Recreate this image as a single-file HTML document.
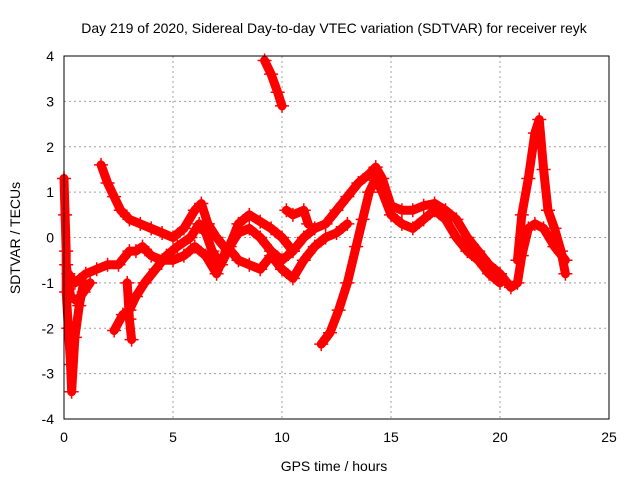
<!DOCTYPE html>
<html><head><meta charset="utf-8"><style>
body{margin:0;background:#fff;}
svg{display:block;font-family:"Liberation Sans",sans-serif;}
</style></head><body>
<svg id="chart" width="640" height="480">
<rect width="640" height="480" fill="#fff"/>
<text x="334" y="33" font-size="14" text-anchor="middle">Day 219 of 2020, Sidereal Day-to-day VTEC variation (SDTVAR) for receiver reyk</text>
<text x="334" y="471" font-size="14" text-anchor="middle">GPS time / hours</text>
<text x="20" y="238" font-size="14" text-anchor="middle" transform="rotate(-90 20 238)">SDTVAR / TECUs</text>
<g id="grid"></g><g id="ticks"></g><g id="marks"></g>
<rect x="64" y="56" width="545" height="363" fill="none" stroke="#000"/>
</svg>
<script>
const xTicks=[0,5,10,15,20,25];
const yTicks=[-4,-3,-2,-1,0,1,2,3,4];
const track1=[[1.7,1.6],[2.0,1.2],[2.3,0.9],[2.6,0.6],[3.0,0.4],[3.5,0.3],[4,0.2],[4.5,0.1],[5,0.0],[5.5,0.2],[6,0.6],[6.3,0.75],[6.6,0.3],[7,0.0],[7.5,-0.3],[8,0.3],[8.5,0.5],[9,0.35],[9.5,0.2],[10,0.0],[10.5,-0.3],[11,0.0],[11.5,0.2],[12,0.3],[12.5,0.6],[13,0.9],[13.5,1.2],[14,1.4],[14.3,1.55],[14.6,1.3],[15,0.7],[15.5,0.6],[16,0.6],[16.5,0.7],[17,0.75],[17.5,0.6],[18,0.4],[18.5,0.0],[19,-0.3],[19.5,-0.6],[20,-0.8],[20.5,-1.1],[20.8,-1.0],[21,-0.4],[21.3,0.2],[21.6,0.3],[22,0.2],[22.5,-0.2],[23,-0.5]];
const track2=[[0.2,-0.8],[0.5,-1.0],[1,-0.8],[1.5,-0.7],[2,-0.6],[2.5,-0.6],[3,-0.3],[3.3,-0.3],[3.6,-0.2],[4,-0.4],[4.5,-0.5],[5,-0.5],[5.5,-0.4],[6,-0.2],[6.5,-0.4],[7,-0.8],[7.5,-0.2],[8,-0.5],[8.5,-0.6],[9,-0.7],[9.5,-0.4],[10,-0.7],[10.5,-0.9],[11,-0.5],[11.5,-0.2],[12,0.0],[12.5,0.1],[13,0.3]];
const track3=[[2.3,-2.05],[2.7,-1.7],[3.0,-1.6],[3.3,-1.3],[3.7,-1.0],[4.2,-0.7],[4.7,-0.4],[5.2,-0.2],[5.8,0.0],[6.2,0.3],[6.5,0.1],[6.8,-0.3],[7.2,-0.6],[7.6,-0.2],[8.0,0.1],[8.5,0.2],[9,0.0],[9.5,-0.3],[10,-0.5],[10.5,-0.3]];
const track4=[[11.8,-2.35],[12.2,-2.1],[12.6,-1.6],[13,-1.0],[13.4,-0.2],[13.7,0.4],[14,1.0],[14.3,1.3],[14.6,1.0],[15,0.5],[15.5,0.3],[16,0.2],[16.5,0.4],[17,0.6],[17.5,0.4],[18,0.0],[18.5,-0.3],[19,-0.5],[19.5,-0.8],[20,-1.0]];
const track5=[[9.2,3.9],[9.5,3.6],[9.8,3.2],[10.0,2.9]];
const track6=[[0,1.3],[0.05,0.5],[0.1,-0.3],[0.1,-1.2],[0.2,-2.0],[0.3,-2.8],[0.35,-3.4],[0.5,-2.2],[0.7,-1.5],[0.9,-1.0]];
const track7=[[20.8,-0.5],[21,0.5],[21.3,1.3],[21.6,2.3],[21.8,2.6],[22,1.5],[22.2,0.6],[22.5,0.2],[22.8,-0.3],[23,-0.8]];
const track8=[[10.2,0.6],[10.5,0.5],[11,0.6],[11.2,0.3],[2.9,-1.0],[3.0,-1.8],[3.1,-2.25]];
const track9=[[0.1,-0.6],[0.3,-1.3],[0.6,-1.4],[0.9,-1.2],[1.2,-1.0]];
const tracks=[track1,track2,track3,track4,track5,track6,track7,track8.slice(0,4),track8.slice(4),track9];
const X=t=>64+t*21.8, Y=v=>237.5-v*45.375;
const NS='http://www.w3.org/2000/svg';
const g=document.getElementById('grid'),tk=document.getElementById('ticks'),mk=document.getElementById('marks');
function el(n,a,p){const e=document.createElementNS(NS,n);for(const k in a)e.setAttribute(k,a[k]);p.appendChild(e);return e;}
xTicks.forEach(t=>{
 const l=el('line',{x1:X(t),x2:X(t),y1:56,y2:419,stroke:'#a0a0a0','stroke-dasharray':'2,3'},g);
 
 
 const s=el('text',{x:X(t),y:442,'font-size':14,'text-anchor':'middle'},tk);s.textContent=t;
 
 
});
yTicks.forEach(v=>{
 const l=el('line',{x1:64,x2:609,y1:Y(v),y2:Y(v),stroke:'#a0a0a0','stroke-dasharray':'2,3'},g);
 
 
 const s=el('text',{x:54,y:Y(v)+5,'font-size':14,'text-anchor':'end'},tk);s.textContent=v;
 
 
});
tracks.forEach(tr=>{
 const pl=el('polyline',{points:tr.map(p=>X(p[0])+','+Y(p[1])).join(' '),fill:'none',stroke:'#f00','stroke-width':9,'stroke-linejoin':'round','stroke-linecap':'round'},mk);
 
 
 tr.forEach(p=>{
  const x=X(p[0]),y=Y(p[1]);
  const m=el('path',{d:`M${x-7},${y}h14M${x},${y-7}v14`,stroke:'#f00','stroke-width':1.5},mk);
  
  
 });
});
</script>
</body></html>
